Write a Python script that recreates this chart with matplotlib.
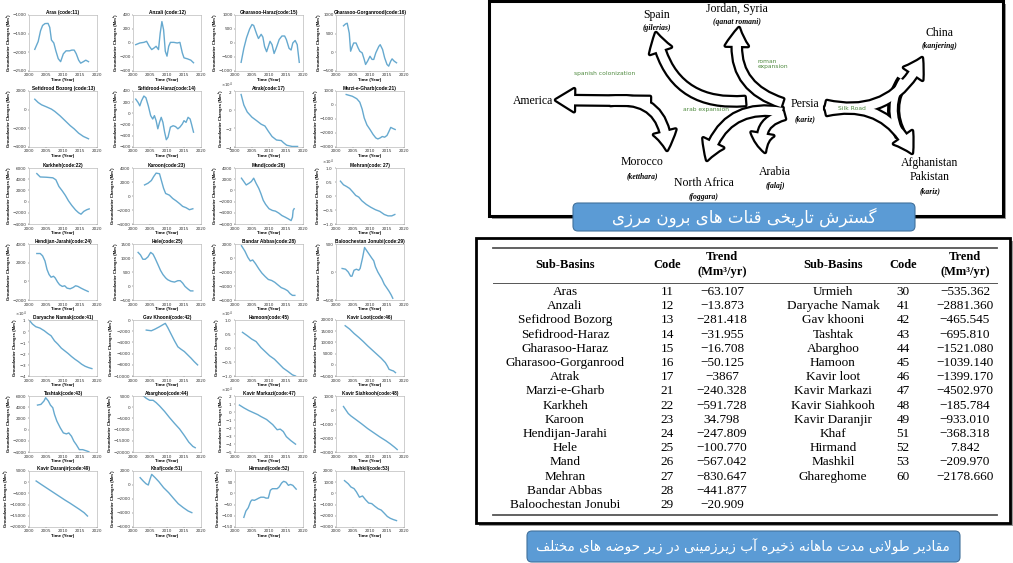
import matplotlib
matplotlib.use('Agg')
import matplotlib.pyplot as plt
from matplotlib.patches import FancyArrowPatch, FancyBboxPatch, Rectangle, ArrowStyle
import numpy as np

# Groundwater storage change per sub-basin (Mm3), read as year / value pairs
t11 = [2001.7, 2002.7, 2003.4, 2004.0, 2004.7, 2005.6, 2006.1, 2006.6, 2007.3, 2007.9, 2008.6, 2009.3, 2010.1, 2010.9, 2011.9, 2012.6, 2013.3, 2013.9, 2014.6, 2015.2, 2016.0, 2016.7, 2017.5]
v11 = [-1920, -1710, -1420, -1280, -1230, -1225, -1330, -1670, -1750, -1960, -2170, -2250, -2040, -1960, -1960, -1940, -1940, -2040, -2210, -2290, -2250, -2210, -2250]
t12 = [2000.8, 2002.0, 2003.2, 2004.0, 2004.8, 2005.5, 2006.2, 2006.8, 2007.5, 2008.0, 2008.5, 2009.0, 2009.5, 2010.0, 2010.5, 2011.0, 2012.0, 2013.0, 2013.8, 2014.5, 2015.0, 2016.0, 2017.0, 2017.8]
v12 = [-24, 0, 9, 24, -47, -94, -71, -47, -94, 141, 306, 188, -118, -188, -47, 9, 9, 0, 9, -141, -212, -226, -245, -282]
t15 = [2001.8, 2002.6, 2003.4, 2004.3, 2005.0, 2005.5, 2006.4, 2006.9, 2007.7, 2008.2, 2008.7, 2009.3, 2009.8, 2010.3, 2010.9, 2011.5, 2012.1, 2013.0, 2013.8, 2014.6, 2015.1, 2015.9, 2016.5, 2017.0, 2017.7, 2018.3, 2018.9]
v15 = [-690, -190, 190, 500, 660, 625, 310, 160, 310, 210, -125, -310, -125, 60, -60, -375, -190, 125, 250, 250, 125, -190, -250, 0, 90, -60, -690]
t16 = [2002.2, 2002.8, 2003.3, 2003.9, 2004.3, 2004.8, 2005.2, 2005.9, 2006.5, 2007.0, 2007.7, 2008.3, 2008.7, 2009.3, 2010.0, 2010.6, 2011.1, 2011.7, 2012.6, 2013.0, 2013.7, 2014.3, 2015.0, 2015.5, 2016.1, 2016.5, 2017.1, 2017.8]
v16 = [710, 760, 780, 515, 30, 160, 250, 250, 120, 30, -15, -190, -325, -235, -105, -190, -190, -15, 160, 205, 75, -145, -325, -370, -235, -175, -235, -280]
t13 = [2001.7, 2002.7, 2003.7, 2005.1, 2006.6, 2007.6, 2009.1, 2010.6, 2012.1, 2013.3, 2014.6, 2016.0, 2017.5]
v13 = [1120, 765, 520, 305, 60, -190, -650, -1175, -1705, -2060, -2520, -2870, -3120]
t14 = [2000.8, 2001.5, 2002.0, 2002.5, 2003.2, 2003.8, 2004.5, 2005.2, 2005.8, 2006.3, 2006.8, 2007.3, 2007.8, 2008.3, 2008.8, 2009.3, 2009.8, 2010.3, 2011.0, 2011.8, 2012.5, 2013.2, 2013.8, 2014.5, 2015.0, 2015.6, 2016.2, 2016.8, 2017.2, 2017.8]
v14 = [255, 195, 135, 225, 310, 280, 135, -40, -100, -40, -130, -275, -160, -70, -160, -335, -470, -425, -245, -220, -235, -275, -245, -190, -130, -160, -70, -100, -190, -335]
t17 = [2001.8, 2002.6, 2003.6, 2005.0, 2006.4, 2007.7, 2008.8, 2009.8, 2010.9, 2012.2, 2013.6, 2014.3, 2015.2, 2016.8, 2018.4]
v17 = [16250, 5000, -2500, -8100, -11900, -15600, -17500, -23100, -28800, -32500, -33100, -35500, -38100, -39400, -39400]
t21 = [2003.0, 2004.8, 2006.1, 2007.0, 2007.7, 2008.3, 2009.1, 2010.0, 2010.9, 2011.7, 2012.3, 2013.0, 2013.6, 2014.3, 2015.0, 2015.5, 2016.1, 2016.7, 2017.4]
v21 = [750, 625, 450, 200, -300, -925, -1425, -1750, -2100, -2350, -2425, -2350, -2250, -2300, -2175, -1925, -1600, -1675, -1750]
t22 = [2002.3, 2003.3, 2005.1, 2007.0, 2007.9, 2008.8, 2009.8, 2010.7, 2011.6, 2012.6, 2013.7, 2014.6, 2015.3, 2016.1, 2017.0, 2017.7]
v22 = [5000, 4400, 4350, 4250, 3900, 2700, 1900, 1100, 150, -700, -1500, -2000, -2250, -1750, -1450, -1300]
t23 = [2003.4, 2004.4, 2005.4, 2006.1, 2006.8, 2007.8, 2008.3, 2009.0, 2009.6, 2010.7, 2011.7, 2012.7, 2013.7, 2014.6, 2015.6, 2016.6, 2017.6]
v23 = [1580, 1820, 2210, 2790, 3270, 3180, 2300, 1090, 360, 120, -360, -700, -1090, -1480, -1670, -1960, -1820]
t26 = [2001.9, 2002.6, 2003.3, 2004.1, 2004.8, 2005.5, 2006.2, 2007.0, 2007.6, 2008.3, 2009.0, 2010.0, 2011.0, 2011.9, 2012.9, 2013.8, 2014.8, 2015.7, 2016.5, 2016.9, 2017.1, 2017.4]
v26 = [2180, 1580, 970, 1270, 1580, 2180, 1270, 360, -545, -1760, -2490, -3270, -3580, -3700, -4060, -4490, -4790, -5090, -5390, -4790, -3580, -3270]
t27 = [2001.3, 2002.2, 2003.1, 2004.0, 2004.9, 2005.8, 2006.7, 2007.6, 2008.9, 2010.2, 2011.6, 2012.9, 2014.2, 2015.3, 2016.4, 2017.3]
v27 = [5300, 4000, 3400, 2700, 1500, 200, -400, -1700, -3000, -4000, -4900, -5500, -6600, -7100, -7100, -6600]
t24 = [2002.3, 2003.3, 2004.0, 2004.7, 2005.3, 2005.9, 2006.5, 2007.2, 2007.7, 2008.4, 2009.0, 2009.8, 2010.5, 2011.2, 2012.1, 2013.0, 2013.7, 2014.4, 2015.3, 2016.3, 2017.4]
v24 = [2980, 2980, 2730, 2180, 1270, 730, 440, 545, 365, -75, -365, -545, -475, -730, -800, -655, -475, -545, -730, -910, -1090]
t25 = [2001.5, 2002.2, 2002.9, 2003.6, 2004.4, 2005.2, 2005.9, 2006.5, 2007.3, 2008.1, 2008.8, 2009.6, 2010.2, 2011.2, 2012.2, 2013.2, 2013.9, 2014.6, 2015.3, 2016.1, 2016.9, 2017.6]
v25 = [1200, 1110, 955, 955, 1040, 1200, 1135, 990, 775, 555, 410, 290, 225, 165, 140, 190, 190, 105, -15, -100, -175, -175]
t28 = [2001.9, 2002.9, 2003.8, 2004.5, 2005.2, 2006.0, 2007.0, 2007.9, 2008.9, 2009.8, 2010.8, 2011.7, 2012.7, 2013.6, 2014.6, 2015.5, 2016.2, 2016.9, 2017.6]
v28 = [1750, 990, 75, -430, -280, -785, -1545, -2150, -2660, -3065, -3215, -3470, -3875, -4230, -4430, -4685, -5090, -5340, -5340]
t29 = [2001.8, 2002.8, 2003.6, 2004.3, 2004.7, 2005.3, 2006.0, 2006.7, 2007.1, 2007.8, 2008.4, 2009.1, 2009.8, 2010.5, 2011.1, 2011.6, 2012.3, 2012.9, 2013.5, 2014.2, 2014.9, 2015.6, 2016.2, 2016.7]
v29 = [63, 50, 0, -75, -75, 31, 50, 31, 63, 250, 438, 375, 313, 250, 200, 94, 0, -63, -125, -219, -281, -344, -406, -469]
t41 = [2000.2, 2001.0, 2002.0, 2003.2, 2004.5, 2005.5, 2006.5, 2007.5, 2008.5, 2009.5, 2010.5, 2011.5, 2012.5, 2013.5, 2014.5, 2015.5, 2016.5, 2017.5, 2018.5]
v41 = [9400, 6400, 4000, 2800, 400, -2000, -4100, -8600, -11600, -15100, -17500, -19900, -22600, -25000, -27100, -29500, -31300, -32500, -33400]
t42 = [2003.9, 2005.4, 2006.5, 2007.8, 2008.8, 2009.5, 2010.2, 2011.2, 2012.2, 2013.2, 2014.1, 2015.1, 2016.1, 2017.1, 2018.0, 2019.0]
v42 = [-1800, -1920, -1620, -1200, -840, -600, -1320, -2520, -3710, -4790, -5210, -5630, -6230, -6830, -7430, -8020]
t45 = [2002.2, 2003.6, 2004.9, 2006.2, 2007.6, 2008.9, 2010.2, 2011.6, 2012.9, 2014.2, 2015.6, 2016.9, 2017.8]
v45 = [5600, 4400, 3200, 2300, 200, -1300, -2800, -4000, -5600, -7200, -8400, -9600, -10000]
t46 = [2002.7, 2004.0, 2005.3, 2006.7, 2008.0, 2009.3, 2010.7, 2012.0, 2013.3, 2014.5, 2015.1, 2015.6, 2016.3, 2016.9, 2017.5]
v46 = [17450, 15960, 14010, 12220, 10420, 8470, 6530, 4730, 2930, 990, -510, -2010, -2460, -2750, -3500]
t43 = [2002.5, 2003.5, 2004.4, 2004.9, 2005.7, 2006.3, 2007.0, 2007.5, 2008.2, 2009.2, 2010.1, 2011.0, 2011.7, 2012.5, 2013.2, 2013.9, 2014.8, 2015.8, 2016.7, 2017.6]
v43 = [4380, 4500, 5100, 5700, 5100, 4380, 3900, 2710, 1510, 310, -590, -770, -590, -1190, -2080, -2680, -3580, -3580, -3760, -3950]
t44 = [2003.1, 2003.9, 2004.9, 2005.9, 2006.8, 2007.8, 2009.3, 2010.7, 2012.2, 2013.7, 2015.1, 2016.4, 2017.6, 2018.3]
v44 = [5000, 3970, 3090, 3090, 2060, 590, -1910, -4560, -7210, -9710, -12650, -15590, -17500, -18090]
t47 = [2001.3, 2002.6, 2004.0, 2005.4, 2006.7, 2007.6, 2009.3, 2011.1, 2012.4, 2013.3, 2014.2, 2015.1, 2016.4, 2017.8]
v47 = [8700, 5200, 1900, -800, -3300, -5600, -9400, -15800, -22200, -21400, -24400, -30800, -35700, -40200]
t48 = [2002.2, 2003.6, 2004.4, 2005.8, 2007.6, 2009.3, 2011.1, 2012.9, 2014.7, 2016.0, 2017.3, 2018.0]
v48 = [250, -250, -425, -675, -1000, -1325, -1625, -1925, -2200, -2425, -2675, -2825]
t49 = [2002.1, 2003.5, 2004.9, 2006.3, 2007.7, 2009.2, 2010.6, 2012.0, 2013.4, 2014.8, 2016.2, 2017.2]
v49 = [540, -900, -2300, -3700, -5100, -6600, -8000, -9300, -10700, -12100, -13600, -15100]
t51 = [2002.1, 2003.0, 2003.8, 2004.5, 2005.0, 2005.5, 2006.5, 2007.6, 2009.0, 2010.5, 2011.9, 2013.3, 2014.8, 2016.2, 2017.3]
v51 = [1050, 570, 190, 0, 810, 1520, 1050, 480, -380, -1100, -1900, -2670, -3240, -3710, -3950]
t52 = [2002.6, 2003.2, 2003.9, 2004.6, 2005.0, 2005.7, 2006.4, 2007.0, 2007.6, 2008.5, 2009.1, 2009.8, 2010.4, 2011.0, 2011.7, 2012.4, 2013.0, 2013.7, 2014.3, 2015.0, 2015.7, 2016.3, 2017.0, 2017.4, 2018.0]
v52 = [-107, -79, -64, -36, -29, -31, -26, -21, -17, -17, -21, -21, 14, 21, 21, 21, 29, 46, 54, 50, 36, 40, 36, 29, 19]
t53 = [2002.5, 2003.6, 2004.4, 2005.3, 2006.0, 2006.9, 2007.8, 2008.7, 2009.6, 2010.5, 2011.4, 2012.4, 2013.3, 2014.2, 2015.1, 2016.0, 2016.9, 2017.8]
v53 = [1140, 860, 570, 430, 140, -340, -230, -570, -860, -910, -1140, -1370, -1490, -1770, -2060, -2230, -2340, -2430]

titles = ['Aras (code:11)', 'Anzali (code:12)', 'Gharasoo-Haraz(code:15)', 'Gharasoo-Gorganrood(code:16)',
          'Sefidrood Bozorg (code:13)', 'Sefidrood-Haraz(code:14)', 'Atrak(code:17)', 'Marzi-e-Gharb(code:21)',
          'Karkheh(code:22)', 'Karoon(code:23)', 'Mand(code:26)', 'Mehran(code: 27)',
          'Hendijan-Jarahi(code:24)', 'Hele(code:25)', 'Bandar Abbas(code:28)', 'Baloochestan Jonubi(code:29)',
          'Daryache Namak(code:41)', 'Gav Khooni(code:42)', 'Hamoon(code:45)', 'Kavir Loot(code:46)',
          'Tashtak(code:43)', 'Abarghoo(code:44)', 'Kavir Markazi(code:47)', 'Kavir Siahkooh(code:48)',
          'Kavir Daranjir(code:49)', 'Khaf(code:51)', 'Hirmand(code:52)', 'Mashkil(code:53)']
series = [(t11, v11), (t12, v12), (t15, v15), (t16, v16), (t13, v13), (t14, v14), (t17, v17), (t21, v21),
          (t22, v22), (t23, v23), (t26, v26), (t27, v27), (t24, v24), (t25, v25), (t28, v28), (t29, v29),
          (t41, v41), (t42, v42), (t45, v45), (t46, v46), (t43, v43), (t44, v44), (t47, v47), (t48, v48),
          (t49, v49), (t51, v51), (t52, v52), (t53, v53)]
# y range (low, high, tick step) for each panel
ylims = [(-2500, -1000, 500), (-400, 400, 200), (-1000, 1000, 500), (-500, 1000, 500),
         (-4000, 2000, 2000), (-600, 400, 200), (-40000, 20000, 20000), (-3000, 1000, 1000),
         (-4000, 6000, 2000), (-4000, 4000, 2000), (-6000, 4000, 2000), (-10000, 10000, 5000),
         (-2000, 4000, 2000), (-500, 1500, 500), (-6000, 2000, 2000), (-500, 500, 500),
         (-40000, 10000, 10000), (-10000, 0, 2000), (-10000, 10000, 5000), (-5000, 20000, 5000),
         (-4000, 6000, 2000), (-20000, 5000, 5000), (-50000, 20000, 10000), (-3000, 1000, 1000),
         (-20000, 5000, 5000), (-6000, 2000, 2000), (-150, 100, 50), (-3000, 2000, 1000)]
sci_panels = [6, 11, 16, 18, 22]
year_ticks = [2000, 2005, 2010, 2015, 2020]

# long-term trend table
left_names = ['Aras', 'Anzali', 'Sefidrood Bozorg', 'Sefidrood-Haraz', 'Gharasoo-Haraz', 'Gharasoo-Gorganrood',
              'Atrak', 'Marzi-e-Gharb', 'Karkheh', 'Karoon', 'Hendijan-Jarahi', 'Hele', 'Mand', 'Mehran',
              'Bandar Abbas', 'Baloochestan Jonubi']
left_codes = ['11', '12', '13', '14', '15', '16', '17', '21', '22', '23', '24', '25', '26', '27', '28', '29']
left_trends = ['\u221263.107', '\u221213.873', '\u2212281.418', '\u221231.955', '\u221216.708', '\u221250.125',
               '\u22123867', '\u2212240.328', '\u2212591.728', '34.798', '\u2212247.809', '\u2212100.770',
               '\u2212567.042', '\u2212830.647', '\u2212441.877', '\u221220.909']
right_names = ['Urmieh', 'Daryache Namak', 'Gav khooni', 'Tashtak', 'Abarghoo', 'Hamoon', 'Kavir loot',
               'Kavir Markazi', 'Kavir Siahkooh', 'Kavir Daranjir', 'Khaf', 'Hirmand', 'Mashkil', 'Ghareghome']
right_codes = ['30', '41', '42', '43', '44', '45', '46', '47', '48', '49', '51', '52', '53', '60']
right_trends = ['\u2212535.362', '\u22122881.360', '\u2212465.545', '\u2212695.810', '\u22121521.080',
                '\u22121039.140', '\u22121399.170', '\u22124502.970', '\u2212185.784', '\u2212933.010',
                '\u2212368.318', '7.842', '\u2212209.970', '\u22122178.660']

caption_top = 'گسترش تاریخی قنات های برون مرزی'
caption_bottom = 'مقادیر طولانی مدت ماهانه ذخیره آب زیرزمینی در زیر حوضه های مختلف'

# contextual forms: isolated, final, initial, medial
FORMS = {
    'ا': ('\uFE8D', '\uFE8E', None, None), 'آ': ('\uFE81', '\uFE82', None, None),
    'ب': ('\uFE8F', '\uFE90', '\uFE91', '\uFE92'), 'ت': ('\uFE95', '\uFE96', '\uFE97', '\uFE98'),
    'ح': ('\uFEA1', '\uFEA2', '\uFEA3', '\uFEA4'), 'خ': ('\uFEA5', '\uFEA6', '\uFEA7', '\uFEA8'),
    'د': ('\uFEA9', '\uFEAA', None, None), 'ذ': ('\uFEAB', '\uFEAC', None, None),
    'ر': ('\uFEAD', '\uFEAE', None, None), 'ز': ('\uFEAF', '\uFEB0', None, None),
    'س': ('\uFEB1', '\uFEB2', '\uFEB3', '\uFEB4'), 'ش': ('\uFEB5', '\uFEB6', '\uFEB7', '\uFEB8'),
    'ض': ('\uFEBD', '\uFEBE', '\uFEBF', '\uFEC0'), 'ط': ('\uFEC1', '\uFEC2', '\uFEC3', '\uFEC4'),
    'ف': ('\uFED1', '\uFED2', '\uFED3', '\uFED4'), 'ق': ('\uFED5', '\uFED6', '\uFED7', '\uFED8'),
    'ل': ('\uFEDD', '\uFEDE', '\uFEDF', '\uFEE0'), 'م': ('\uFEE1', '\uFEE2', '\uFEE3', '\uFEE4'),
    'ن': ('\uFEE5', '\uFEE6', '\uFEE7', '\uFEE8'), 'ه': ('\uFEE9', '\uFEEA', '\uFEEB', '\uFEEC'),
    'و': ('\uFEED', '\uFEEE', None, None), 'ی': ('\uFBFC', '\uFBFD', '\uFBFE', '\uFBFF'),
    'گ': ('\uFB92', '\uFB93', '\uFB94', '\uFB95'),
}


def shape_fa(s):
    # join letters into their contextual forms and lay them out right to left
    out = []
    i = 0
    while i < len(s):
        c = s[i]
        if c not in FORMS:
            out.append(c)
            i += 1
            continue
        prev = s[i - 1] if i > 0 else ''
        linked_prev = prev in FORMS and FORMS[prev][2] is not None
        if c == 'ل' and i + 1 < len(s) and s[i + 1] == 'ا':
            out.append('\uFEFC' if linked_prev else '\uFEFB')
            i += 2
            continue
        nxt = s[i + 1] if i + 1 < len(s) else ''
        linked_next = FORMS[c][2] is not None and nxt in FORMS
        iso, fin, ini, med = FORMS[c]
        if linked_prev and linked_next:
            out.append(med)
        elif linked_prev:
            out.append(fin)
        elif linked_next:
            out.append(ini)
        else:
            out.append(iso)
        i += 1
    return ''.join(reversed(out))


W, H = 1013, 563
fig = plt.figure(figsize=(W / 100, H / 100), dpi=100)
fig.patch.set_facecolor('white')

# full-size canvas in pixel units for the diagram and the table
cv = fig.add_axes([0, 0, 1, 1])
cv.set_xlim(0, W)
cv.set_ylim(H, 0)
cv.axis('off')

# ---- small multiples ----
col_x = [29, 133, 235, 336]
row_y = [15, 91, 168, 244, 320, 396, 471]
PW, PH = 68, 56
for k, (title, (t, v), lim) in enumerate(zip(titles, series, ylims)):
    r, c = divmod(k, 4)
    ax = fig.add_axes([col_x[c] / W, 1 - (row_y[r] + PH) / H, PW / W, PH / H])
    ax.plot(t, v, color='#66a9cf', lw=1.0)
    lo, hi, step = lim
    ax.set_xlim(2000, 2020)
    ax.set_ylim(lo, hi)
    ax.set_xticks(year_ticks)
    ax.set_yticks(np.arange(lo, hi + step / 2, step))
    ax.set_title(title, fontsize=3.4, fontweight='bold', pad=0.6, family='Liberation Sans')
    ax.set_xlabel('Time (Year)', fontsize=3.2, fontweight='bold', labelpad=0.3, family='Liberation Sans')
    ax.set_ylabel('Groundwater Changes (Mm³)', fontsize=3.0, fontweight='bold', labelpad=1,
                  family='Liberation Sans')
    ax.tick_params(labelsize=3, length=1, width=0.3, pad=0.8, colors='#333333')
    if k in sci_panels:
        ax.ticklabel_format(axis='y', style='sci', scilimits=(0, 0), useMathText=True)
        off = ax.yaxis.get_offset_text()
        off.set_fontsize(2.8)
        off.set_x(-0.2)
    for s in ax.spines.values():
        s.set_linewidth(0.4)
        s.set_color('#aaaaaa')

# ---- qanat spread diagram ----
cv.add_patch(Rectangle((492, 4), 514, 215, fc='#9a9a9a', ec='none', zorder=1))
cv.add_patch(Rectangle((489, 1), 514, 215, fc='white', ec='black', lw=2.2, zorder=2))

arrows = [((782, 103), (739, 28), -0.45),
          ((745, 101), (656, 33), -0.45),
          ((650, 101), (556, 100), 0.0),
          ((610, 101), (667, 150), -0.55),
          ((782, 112), (707, 160), 0.45),
          ((784, 115), (765, 152), 0.55),
          ((826, 105), (922, 58), 0.4),
          ((826, 111), (912, 153), -0.4)]
head = ArrowStyle.Simple(head_length=13, head_width=16, tail_width=6)
for fc, lw, z in [('black', 3.2, 3), ('white', 0, 4)]:
    for tail, tip, rad in arrows:
        cv.add_patch(FancyArrowPatch(tail, tip, arrowstyle=head, connectionstyle=f'arc3,rad={rad}',
                                     shrinkA=0, shrinkB=0, fc=fc, ec='black' if lw else 'none',
                                     lw=lw, zorder=z))
# curved link between the China and Afghanistan branches
for col, lw, z in [('black', 9.5, 3), ('white', 4.5, 4)]:
    cv.add_patch(FancyArrowPatch((903, 80), (901, 136), arrowstyle='-',
                                 connectionstyle='arc3,rad=0.3', shrinkA=0, shrinkB=0,
                                 color=col, lw=lw, capstyle='butt', zorder=z))

places = [('Spain', 657, 15), ('Jordan, Syria', 737, 9), ('China', 940, 33), ('America', 533, 101),
          ('Persia', 805, 104), ('Morocco', 642, 162), ('North Africa', 704, 183), ('Arabia', 775, 172),
          ('Afghanistan', 930, 163), ('Pakistan', 930, 177)]
local_names = [('(gilerias)', 657, 28), ('(qanat romani)', 737, 22), ('(kanjering)', 940, 46),
               ('(kariz)', 805, 119), ('(ketthara)', 642, 176), ('(foggara)', 704, 197),
               ('(falaj)', 775, 186), ('(kariz)', 930, 191)]
routes = [('spanish colonization', 605, 73), ('roman\nexpansion', 758, 64), ('arab expansion', 706, 110),
          ('Silk Road', 852, 109)]
for txt, x, y in places:
    cv.text(x, y, txt, ha='center', va='center', fontsize=8.5, family='Liberation Serif', zorder=6)
for txt, x, y in local_names:
    cv.text(x, y, txt, ha='center', va='center', fontsize=5.5, family='Liberation Serif',
            style='italic', fontweight='bold', zorder=6)
for txt, x, y in routes:
    cv.text(x, y, txt, ha='left' if '\n' in txt else 'center', va='center', fontsize=4.3,
            color='#4e8a3e', family='DejaVu Sans', zorder=6, linespacing=1.2)

cv.add_patch(FancyBboxPatch((573, 203), 342, 28, boxstyle='round,pad=0,rounding_size=5',
                            fc='#5b9bd5', ec='#41719c', lw=0.8, zorder=7))
cv.text(744, 217, shape_fa(caption_top), ha='center', va='center', fontsize=12, color='white',
        family='DejaVu Sans', zorder=8)

# ---- trend table ----
cv.add_patch(Rectangle((479, 241), 534, 285, fc='#9a9a9a', ec='none', zorder=1))
cv.add_patch(Rectangle((476, 238), 534, 285, fc='white', ec='black', lw=2.0, zorder=2))
cv.plot([493, 997], [248, 248], color='#555555', lw=1.3, zorder=3)
cv.plot([493, 997], [283, 283], color='#555555', lw=0.7, zorder=3)
cv.plot([493, 997], [515, 515], color='#555555', lw=1.3, zorder=3)

col_centres = [(565, 667, 722), (833, 903, 965)]
tkw = dict(ha='center', va='center', family='Liberation Serif', zorder=4)
for xs in col_centres:
    cv.text(xs[0], 265, 'Sub-Basins', fontsize=9, fontweight='bold', **tkw)
    cv.text(xs[1], 265, 'Code', fontsize=9, fontweight='bold', **tkw)
    cv.text(xs[2], 257, 'Trend', fontsize=9, fontweight='bold', **tkw)
    cv.text(xs[2], 272, '(Mm³/yr)', fontsize=9, fontweight='bold', **tkw)

row0, dy = 292, 14.2
for cols, names, codes, trends in [(col_centres[0], left_names, left_codes, left_trends),
                                   (col_centres[1], right_names, right_codes, right_trends)]:
    for i, (n, c, tr) in enumerate(zip(names, codes, trends)):
        y = row0 + i * dy
        cv.text(cols[0], y, n, fontsize=9.5, **tkw)
        cv.text(cols[1], y, c, fontsize=9.5, **tkw)
        cv.text(cols[2], y, tr, fontsize=9.5, **tkw)

cv.add_patch(FancyBboxPatch((527, 531), 433, 31, boxstyle='round,pad=0,rounding_size=5',
                            fc='#5b9bd5', ec='#41719c', lw=0.8, zorder=7))
cv.text(743, 547, shape_fa(caption_bottom), ha='center', va='center', fontsize=9.8, color='white',
        family='DejaVu Sans', zorder=8)

fig.savefig('out.png', dpi=100)
